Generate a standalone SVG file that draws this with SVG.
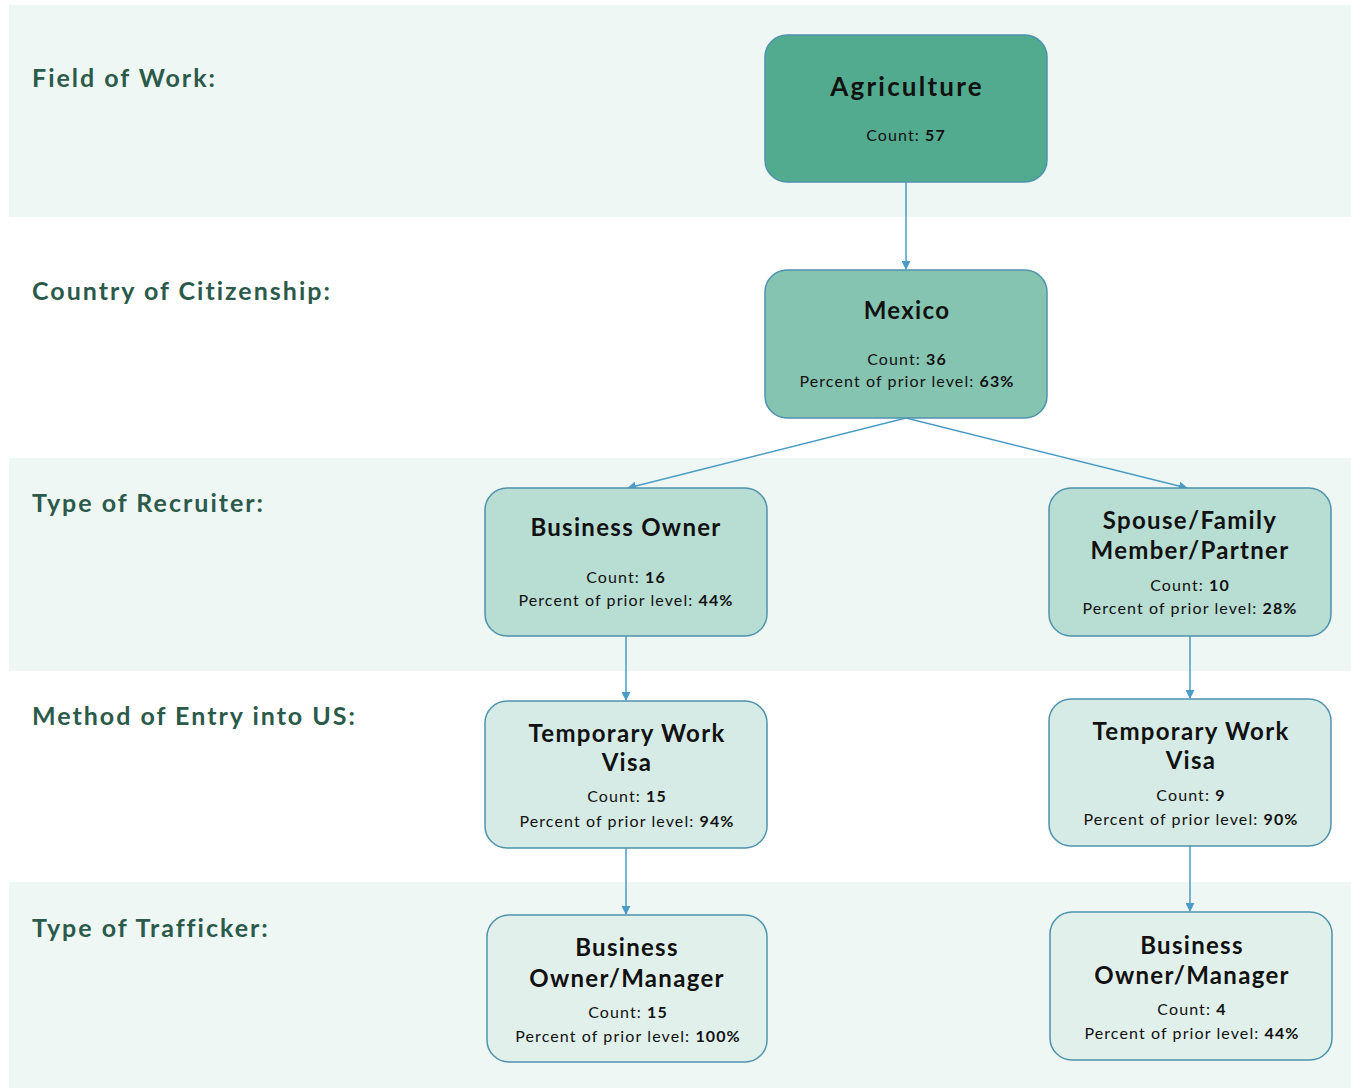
<svg xmlns="http://www.w3.org/2000/svg" width="1351" height="1088" viewBox="0 0 1351 1088">
<defs>
<style>
.band{fill:#eef7f4}
.lvl{font-family:Lato,"Open Sans",sans-serif;font-weight:bold;font-size:25px;fill:#2b5a4b;letter-spacing:2px}
.node rect{stroke:#4f93ad;stroke-width:1.5}
.t{font-family:Lato,"Open Sans",sans-serif;font-weight:bold;font-size:24px;fill:#111;text-anchor:middle;letter-spacing:1.3px}
.big{font-size:26px;letter-spacing:2.2px}
.s{font-family:Lato,"Open Sans",sans-serif;font-size:16px;fill:#111;text-anchor:middle;letter-spacing:1.1px}
.s tspan{font-weight:bold}
.c{stroke:#4a9cc6;stroke-width:1.5;fill:none;marker-end:url(#arr)}
</style>
<marker id="arr" viewBox="0 0 10 10" refX="9" refY="5" markerWidth="9" markerHeight="9" markerUnits="userSpaceOnUse" orient="auto">
<path d="M0,0 L10,5 L0,10 Z" fill="#4a9cc6"/>
</marker>
</defs>
<rect width="1351" height="1088" fill="#ffffff"/>
<rect class="band" x="9" y="5" width="1342" height="212"/>
<rect class="band" x="9" y="458" width="1342" height="213"/>
<rect class="band" x="9" y="882" width="1342" height="206"/>
<text class="lvl" x="32" y="87">Field of Work:</text>
<text class="lvl" x="32" y="300">Country of Citizenship:</text>
<text class="lvl" x="32" y="512">Type of Recruiter:</text>
<text class="lvl" x="32" y="725">Method of Entry into US:</text>
<text class="lvl" x="32" y="937">Type of Trafficker:</text>
<g id="connectors">
<line class="c" x1="906" y1="182" x2="906" y2="269"/>
<line class="c" x1="906" y1="418" x2="628" y2="488"/>
<line class="c" x1="906" y1="418" x2="1187" y2="488"/>
<line class="c" x1="626" y1="636" x2="626" y2="700"/>
<line class="c" x1="1190" y1="636" x2="1190" y2="698"/>
<line class="c" x1="626" y1="848" x2="626" y2="914"/>
<line class="c" x1="1190" y1="846" x2="1190" y2="911"/>
</g>
<g id="agriculture" class="node">
<rect x="765" y="35" width="282" height="147" rx="22" fill="#52ab8f"/>
<text class="t big" x="907" y="96">Agriculture</text>
<text class="s" x="906" y="141">Count: <tspan>57</tspan></text>
</g>
<g id="mexico" class="node">
<rect x="765" y="270" width="282" height="148" rx="22" fill="#85c4b0"/>
<text class="t" x="907" y="319">Mexico</text>
<text class="s" x="907" y="365">Count: <tspan>36</tspan></text>
<text class="s" x="907" y="387">Percent of prior level: <tspan>63%</tspan></text>
</g>
<g id="business-owner" class="node">
<rect x="485" y="488" width="282" height="148" rx="22" fill="#b8ddd2"/>
<text class="t" x="626" y="536">Business Owner</text>
<text class="s" x="626" y="583">Count: <tspan>16</tspan></text>
<text class="s" x="626" y="606">Percent of prior level: <tspan>44%</tspan></text>
</g>
<g id="spouse" class="node">
<rect x="1049" y="488" width="282" height="148" rx="22" fill="#b8ddd2"/>
<text class="t" x="1190" y="529">Spouse/Family</text>
<text class="t" x="1190" y="559">Member/Partner</text>
<text class="s" x="1190" y="591">Count: <tspan>10</tspan></text>
<text class="s" x="1190" y="614">Percent of prior level: <tspan>28%</tspan></text>
</g>
<g id="visa-left" class="node">
<rect x="485" y="701" width="282" height="147" rx="22" fill="#d6ebe5"/>
<text class="t" x="627" y="742">Temporary Work</text>
<text class="t" x="627" y="771">Visa</text>
<text class="s" x="627" y="802">Count: <tspan>15</tspan></text>
<text class="s" x="627" y="827">Percent of prior level: <tspan>94%</tspan></text>
</g>
<g id="visa-right" class="node">
<rect x="1049" y="699" width="282" height="147" rx="22" fill="#d6ebe5"/>
<text class="t" x="1191" y="740">Temporary Work</text>
<text class="t" x="1191" y="769">Visa</text>
<text class="s" x="1191" y="801">Count: <tspan>9</tspan></text>
<text class="s" x="1191" y="825">Percent of prior level: <tspan>90%</tspan></text>
</g>
<g id="trafficker-left" class="node">
<rect x="487" y="915" width="280" height="147" rx="22" fill="#e1f0eb"/>
<text class="t" x="627" y="956">Business</text>
<text class="t" x="627" y="987">Owner/Manager</text>
<text class="s" x="628" y="1018">Count: <tspan>15</tspan></text>
<text class="s" x="628" y="1042">Percent of prior level: <tspan>100%</tspan></text>
</g>
<g id="trafficker-right" class="node">
<rect x="1050" y="912" width="282" height="148" rx="22" fill="#e1f0eb"/>
<text class="t" x="1192" y="954">Business</text>
<text class="t" x="1192" y="984">Owner/Manager</text>
<text class="s" x="1192" y="1015">Count: <tspan>4</tspan></text>
<text class="s" x="1192" y="1039">Percent of prior level: <tspan>44%</tspan></text>
</g>
</svg>
